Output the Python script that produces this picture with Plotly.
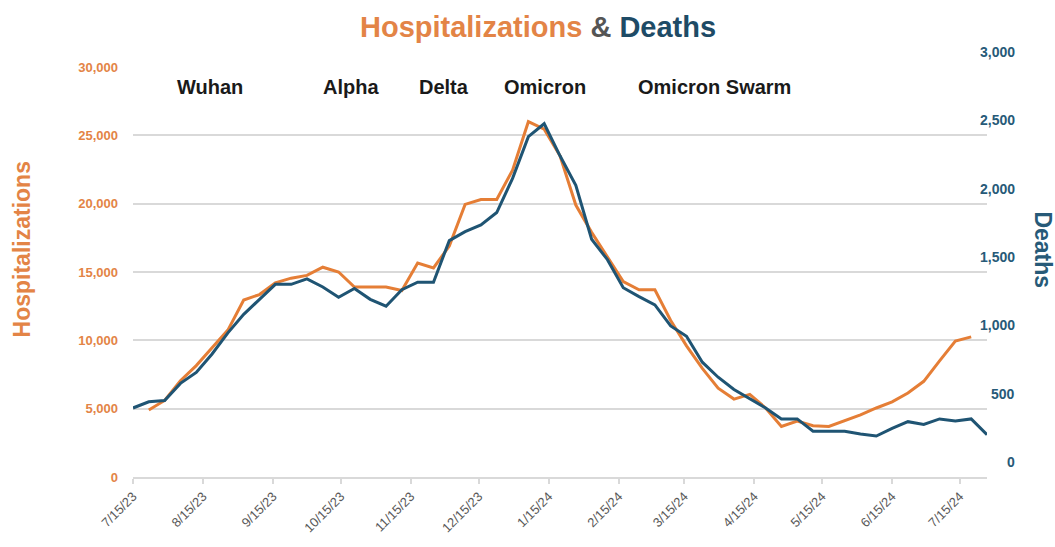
import pandas as pd
import plotly.graph_objects as go

# Weekly reporting dates
weeks = pd.date_range("2023-07-15", periods=55, freq="7D")

# Weekly COVID hospitalizations (left axis)
hospitalizations = [
    None, 4900, 5600, 7050, 8150, 9450, 10750, 12950, 13350, 14200,
    14550, 14750, 15350, 15000, 13900, 13900, 13900, 13650, 15650, 15300,
    16900, 19950, 20300, 20300, 22450, 26000, 25450, 23500, 19900, 17900,
    16100, 14300, 13700, 13700, 11450, 9600, 7950, 6500, 5700, 6050,
    5050, 3700, 4100, 3750, 3700, 4100, 4550, 5050, 5500, 6150,
    7000, 8500, 9950, 10250, None,
]

# Weekly COVID deaths (right axis)
deaths = [
    505, 550, 560, 685, 765, 900, 1055, 1190, 1300, 1410,
    1410, 1450, 1390, 1315, 1380, 1300, 1250, 1370, 1425, 1425,
    1730, 1795, 1845, 1935, 2185, 2490, 2585, 2350, 2135, 1740,
    1590, 1385, 1320, 1260, 1105, 1030, 840, 730, 640, 575,
    505, 425, 425, 335, 335, 335, 315, 300, 355, 405,
    385, 425, 410, 425, 310,
]

# Month ticks
tick_dates = [
    "2023-07-15", "2023-08-15", "2023-09-15", "2023-10-15", "2023-11-15",
    "2023-12-15", "2024-01-15", "2024-02-15", "2024-03-15", "2024-04-15",
    "2024-05-15", "2024-06-15", "2024-07-15",
]
tick_labels = [
    "7/15/23", "8/15/23", "9/15/23", "10/15/23", "11/15/23", "12/15/23",
    "1/15/24", "2/15/24", "3/15/24", "4/15/24", "5/15/24", "6/15/24", "7/15/24",
]

hosp_ticks = [0, 5000, 10000, 15000, 20000, 25000, 30000]
death_ticks = [0, 500, 1000, 1500, 2000, 2500, 3000]

# Variant eras and label positions along the x axis (paper fraction)
variants = ["Wuhan", "Alpha", "Delta", "Omicron", "Omicron Swarm"]
variant_pos = [0.090, 0.255, 0.364, 0.483, 0.681]

ORANGE = "#E57E36"
ORANGE_TXT = "#E38446"
BLUE = "#1F5473"
BLUE_TXT = "#275A78"
GRID = "#D9D9D9"
FONT = "Liberation Sans, Arial, sans-serif"

fig = go.Figure()

fig.add_trace(go.Scatter(
    x=weeks, y=deaths, yaxis="y2", mode="lines",
    line=dict(color=BLUE, width=3), name="Deaths",
))
fig.add_trace(go.Scatter(
    x=weeks, y=hospitalizations, yaxis="y", mode="lines",
    line=dict(color=ORANGE, width=3), name="Hospitalizations",
))

annotations = []
for name, pos in zip(variants, variant_pos):
    annotations.append(dict(
        text=f"<b>{name}</b>", x=pos, xref="paper", y=28550, yref="y",
        showarrow=False, xanchor="center", yanchor="middle",
        font=dict(family=FONT, size=20, color="#1a1a1a"),
    ))

# Right axis labels, right-aligned and sitting just above their gridlines
for v in death_ticks:
    annotations.append(dict(
        text=f"<b>{v:,}</b>", x=1.035, xref="paper", y=v, yref="y2",
        yshift=15, showarrow=False, xanchor="right", yanchor="middle",
        font=dict(family=FONT, size=14, color=BLUE_TXT),
    ))

annotations.append(dict(
    text="<b>Hospitalizations</b>", x=-0.130, xref="paper", y=0.555, yref="paper",
    textangle=-90, showarrow=False, xanchor="center", yanchor="middle",
    font=dict(family=FONT, size=23, color=ORANGE_TXT),
))
annotations.append(dict(
    text="<b>Deaths</b>", x=1.0656, xref="paper", y=0.555, yref="paper",
    textangle=90, showarrow=False, xanchor="center", yanchor="middle",
    font=dict(family=FONT, size=23, color=BLUE_TXT),
))

fig.update_layout(
    width=1055, height=547,
    margin=dict(l=133, r=68, t=67, b=64),
    paper_bgcolor="white", plot_bgcolor="white",
    showlegend=False,
    title=dict(
        text=(f"<b><span style='color:{ORANGE_TXT}'>Hospitalizations</span> "
              f"<span style='color:#555555'>&amp;</span> "
              f"<span style='color:#1E4B66'>Deaths</span></b>"),
        x=0.51, xref="container", xanchor="center",
        y=0.951, yref="container", yanchor="middle",
        font=dict(family=FONT, size=29),
    ),
    xaxis=dict(
        range=["2023-07-15", "2024-07-27"],
        tickvals=tick_dates, ticktext=tick_labels, tickangle=-45,
        tickfont=dict(family=FONT, size=13, color="#595959"),
        showgrid=False, showline=True, linecolor=GRID, linewidth=1.5,
        ticks="outside", ticklen=5, tickcolor=GRID, tickwidth=1.5,
        zeroline=False,
    ),
    yaxis=dict(
        range=[0, 30000], tickvals=hosp_ticks,
        ticktext=[f"<b>{v:,}</b>" for v in hosp_ticks],
        tickfont=dict(family=FONT, size=13, color=ORANGE_TXT),
        showgrid=True, gridcolor=GRID, gridwidth=1.5,
        zeroline=False, showline=False, ticks="",
        ticklabelstandoff=14,
    ),
    yaxis2=dict(
        range=[0, 3000], tickvals=death_ticks,
        overlaying="y", side="right",
        showgrid=False, zeroline=False, showline=False,
        showticklabels=False, ticks="",
    ),
    annotations=annotations,
)

fig.write_html("out.html")
